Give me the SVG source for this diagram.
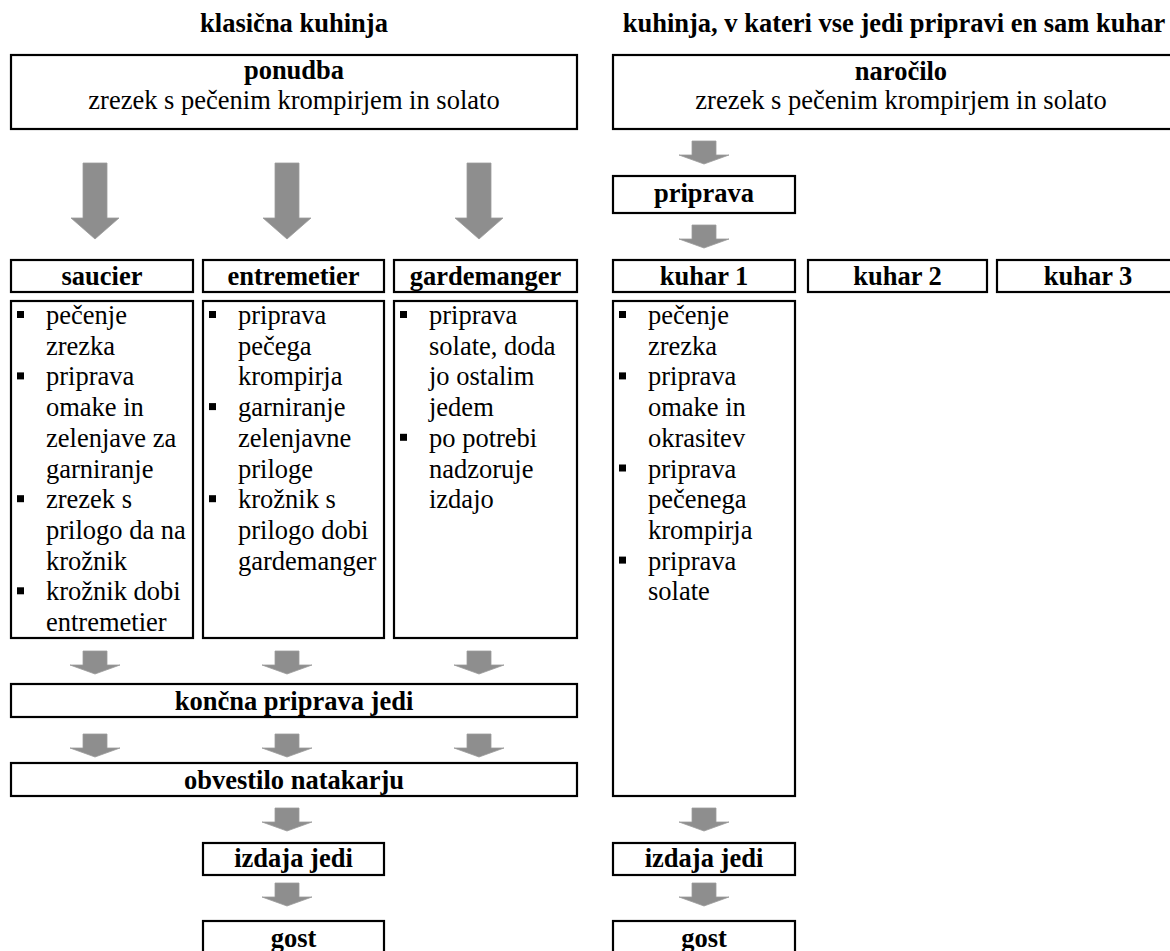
<svg xmlns="http://www.w3.org/2000/svg" xmlns:xlink="http://www.w3.org/1999/xlink" width="1170" height="951" viewBox="0 0 1170 951">
<style>
.box{fill:#fff;stroke:#000;stroke-width:2.2}
.t{font-family:"Liberation Serif","Times New Roman",serif;font-size:26.5px;fill:#000}
.b{font-weight:bold}
.c{text-anchor:middle}
.bul{fill:#000}
.arr{fill:#8e8e8e;stroke:#9c9c9c;stroke-width:0.8}
</style>
<defs>
<path id="big" class="arr" d="M-12,0 H12 V55 H24 L0,76 L-24,55 H-12 Z"/>
<path id="sm" class="arr" d="M-12,0 H12 V14 H25 L0,23 L-25,14 H-12 Z"/>
</defs>

<g id="headers">
<text class="t b c" x="294" y="32">klasična kuhinja</text>
<text class="t b c" x="894" y="32">kuhinja, v kateri vse jedi pripravi en sam kuhar</text>
</g>

<g id="connectors">
<use xlink:href="#big" x="95" y="163"/>
<use xlink:href="#big" x="287" y="163"/>
<use xlink:href="#big" x="479" y="163"/>
<use xlink:href="#sm" x="95" y="651"/>
<use xlink:href="#sm" x="287" y="651"/>
<use xlink:href="#sm" x="479" y="651"/>
<use xlink:href="#sm" x="95" y="734"/>
<use xlink:href="#sm" x="287" y="734"/>
<use xlink:href="#sm" x="479" y="734"/>
<use xlink:href="#sm" x="287" y="808"/>
<use xlink:href="#sm" x="287" y="883"/>
<use xlink:href="#sm" x="704" y="141"/>
<use xlink:href="#sm" x="704" y="225"/>
<use xlink:href="#sm" x="704" y="808"/>
<use xlink:href="#sm" x="704" y="883"/>
</g>

<g id="ponudba">
<rect class="box" x="11" y="55" width="566" height="74"/>
<text class="t b c" x="294" y="79">ponudba</text>
<text class="t c" x="294" y="109">zrezek s pečenim krompirjem in solato</text>
</g>

<g id="narocilo">
<rect class="box" x="613" y="55" width="580" height="74"/>
<text class="t b c" x="901" y="80">naročilo</text>
<text class="t c" x="901" y="109">zrezek s pečenim krompirjem in solato</text>
</g>

<g id="saucier">
<rect class="box" x="11" y="260" width="182" height="32"/>
<text class="t b c" x="102" y="285">saucier</text>
</g>
<g id="entremetier">
<rect class="box" x="203" y="260" width="181" height="32"/>
<text class="t b c" x="293.5" y="285">entremetier</text>
</g>
<g id="gardemanger">
<rect class="box" x="394" y="260" width="183" height="32"/>
<text class="t b c" x="485.5" y="285">gardemanger</text>
</g>

<g id="saucier-tasks">
<rect class="box" x="11" y="301" width="182" height="337"/>
<rect class="bul" x="17" y="311" width="7" height="7"/>
<rect class="bul" x="17" y="372.4" width="7" height="7"/>
<rect class="bul" x="17" y="495.2" width="7" height="7"/>
<rect class="bul" x="17" y="587.3" width="7" height="7"/>
<text class="t" x="46" y="324"><tspan x="46">pečenje</tspan><tspan x="46" dy="30.7">zrezka</tspan><tspan x="46" dy="30.7">priprava</tspan><tspan x="46" dy="30.7">omake in</tspan><tspan x="46" dy="30.7">zelenjave za</tspan><tspan x="46" dy="30.7">garniranje</tspan><tspan x="46" dy="30.7">zrezek s</tspan><tspan x="46" dy="30.7">prilogo da na</tspan><tspan x="46" dy="30.7">krožnik</tspan><tspan x="46" dy="30.7">krožnik dobi</tspan><tspan x="46" dy="30.7">entremetier</tspan></text>
</g>

<g id="entremetier-tasks">
<rect class="box" x="203" y="301" width="181" height="337"/>
<rect class="bul" x="209" y="311" width="7" height="7"/>
<rect class="bul" x="209" y="403.1" width="7" height="7"/>
<rect class="bul" x="209" y="495.2" width="7" height="7"/>
<text class="t" x="238" y="324"><tspan x="238">priprava</tspan><tspan x="238" dy="30.7">pečega</tspan><tspan x="238" dy="30.7">krompirja</tspan><tspan x="238" dy="30.7">garniranje</tspan><tspan x="238" dy="30.7">zelenjavne</tspan><tspan x="238" dy="30.7">priloge</tspan><tspan x="238" dy="30.7">krožnik s</tspan><tspan x="238" dy="30.7">prilogo dobi</tspan><tspan x="238" dy="30.7">gardemanger</tspan></text>
</g>

<g id="gardemanger-tasks">
<rect class="box" x="394" y="301" width="183" height="337"/>
<rect class="bul" x="400" y="311" width="7" height="7"/>
<rect class="bul" x="400" y="433.8" width="7" height="7"/>
<text class="t" x="429" y="324"><tspan x="429">priprava</tspan><tspan x="429" dy="30.7">solate, doda</tspan><tspan x="429" dy="30.7">jo ostalim</tspan><tspan x="429" dy="30.7">jedem</tspan><tspan x="429" dy="30.7">po potrebi</tspan><tspan x="429" dy="30.7">nadzoruje</tspan><tspan x="429" dy="30.7">izdajo</tspan></text>
</g>

<g id="koncna">
<rect class="box" x="11" y="684" width="566" height="33"/>
<text class="t b c" x="294" y="710">končna priprava jedi</text>
</g>
<g id="obvestilo">
<rect class="box" x="11" y="763" width="566" height="33"/>
<text class="t b c" x="294" y="789">obvestilo natakarju</text>
</g>
<g id="izdaja-left">
<rect class="box" x="203" y="843" width="181" height="32"/>
<text class="t b c" x="293.5" y="867">izdaja jedi</text>
</g>
<g id="gost-left">
<rect class="box" x="203" y="921" width="181" height="40"/>
<text class="t b c" x="293.5" y="947">gost</text>
</g>

<g id="priprava">
<rect class="box" x="613" y="176" width="182" height="37"/>
<text class="t b c" x="704" y="202">priprava</text>
</g>
<g id="kuhar1">
<rect class="box" x="613" y="260" width="182" height="32"/>
<text class="t b c" x="704" y="285">kuhar 1</text>
</g>
<g id="kuhar2">
<rect class="box" x="808" y="260" width="179" height="32"/>
<text class="t b c" x="897.5" y="285">kuhar 2</text>
</g>
<g id="kuhar3">
<rect class="box" x="997" y="260" width="182" height="32"/>
<text class="t b c" x="1088" y="285">kuhar 3</text>
</g>
<g id="kuhar1-tasks">
<rect class="box" x="613" y="301" width="182" height="495"/>
<rect class="bul" x="619" y="311" width="7" height="7"/>
<rect class="bul" x="619" y="372.4" width="7" height="7"/>
<rect class="bul" x="619" y="464.5" width="7" height="7"/>
<rect class="bul" x="619" y="556.6" width="7" height="7"/>
<text class="t" x="648" y="324"><tspan x="648">pečenje</tspan><tspan x="648" dy="30.7">zrezka</tspan><tspan x="648" dy="30.7">priprava</tspan><tspan x="648" dy="30.7">omake in</tspan><tspan x="648" dy="30.7">okrasitev</tspan><tspan x="648" dy="30.7">priprava</tspan><tspan x="648" dy="30.7">pečenega</tspan><tspan x="648" dy="30.7">krompirja</tspan><tspan x="648" dy="30.7">priprava</tspan><tspan x="648" dy="30.7">solate</tspan></text>
</g>
<g id="izdaja-right">
<rect class="box" x="613" y="843" width="182" height="32"/>
<text class="t b c" x="704" y="867">izdaja jedi</text>
</g>
<g id="gost-right">
<rect class="box" x="613" y="921" width="182" height="40"/>
<text class="t b c" x="704" y="947">gost</text>
</g>
</svg>
